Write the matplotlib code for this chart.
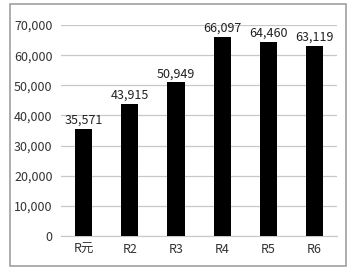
import matplotlib
matplotlib.use('Agg')
import matplotlib.pyplot as plt
from matplotlib.patches import Rectangle
from matplotlib.ticker import FuncFormatter

plt.rcParams['font.family'] = ['Noto Sans CJK JP', 'DejaVu Sans']

years = ['R元', 'R2', 'R3', 'R4', 'R5', 'R6']
values = [35571, 43915, 50949, 66097, 64460, 63119]

fig = plt.figure(figsize=(3.56, 2.75), dpi=100)
ax = fig.add_axes([0.171, 0.142, 0.776, 0.767])

x = range(len(years))
ax.bar(x, values, width=0.37, color='black', zorder=3)
for i, v in zip(x, values):
    ax.text(i, v + 700, f'{v:,}', ha='center', va='bottom', fontsize=9, color='#222222')

ax.set_xlim(-0.5, len(years) - 0.5)
ax.set_ylim(0, 70000)
ax.set_yticks(range(0, 70001, 10000))
ax.yaxis.set_major_formatter(FuncFormatter(lambda v, p: f'{int(v):,}'))
ax.set_xticks(list(x))
ax.set_xticklabels(years)
ax.tick_params(axis='both', length=0, labelsize=9, colors='#333333')
ax.tick_params(axis='y', pad=6)
ax.tick_params(axis='x', pad=5)
ax.grid(axis='y', color='#c8c8c8', linewidth=0.9, zorder=0)
for s in ['top', 'right', 'left']:
    ax.spines[s].set_visible(False)
ax.spines['bottom'].set_color('#c8c8c8')

fig.patches.append(Rectangle((10 / 356, 9 / 275), 336 / 356, 262 / 275,
                             transform=fig.transFigure, fill=False,
                             edgecolor='#a0a0a0', linewidth=1.2))

fig.savefig('out.png', dpi=100)
